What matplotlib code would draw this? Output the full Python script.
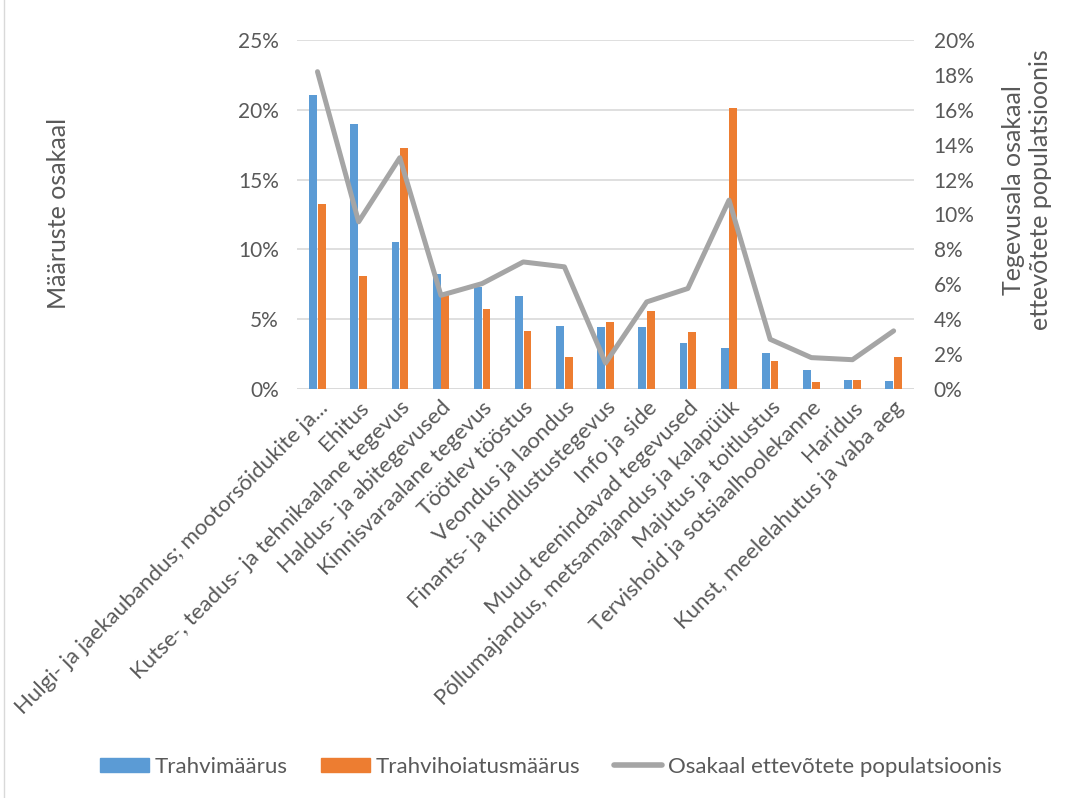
import matplotlib.pyplot as plt
from matplotlib.lines import Line2D
from matplotlib.patches import Patch
from matplotlib.ticker import PercentFormatter

plt.rcParams['font.family'] = ['Lato', 'DejaVu Sans']

categories = ['Hulgi- ja jaekaubandus; mootorsõidukite ja...', 'Ehitus',
              'Kutse-, teadus- ja tehnikaalane tegevus', 'Haldus- ja abitegevused',
              'Kinnisvaraalane tegevus', 'Töötlev tööstus', 'Veondus ja laondus',
              'Finants- ja kindlustustegevus', 'Info ja side', 'Muud teenindavad tegevused',
              'Põllumajandus, metsamajandus ja kalapüük', 'Majutus ja toitlustus',
              'Tervishoid ja sotsiaalhoolekanne', 'Haridus', 'Kunst, meelelahutus ja vaba aeg']
trahvimaarus = [21.06, 19.0, 10.52, 8.27, 7.27, 6.69, 4.49, 4.47, 4.45, 3.32, 2.96, 2.56, 1.36, 0.62, 0.57]
hoiatusmaarus = [13.22, 8.08, 17.26, 6.8, 5.74, 4.18, 2.32, 4.83, 5.57, 4.06, 20.1, 1.98, 0.5, 0.67, 2.32]
populatsioon = [18.18, 9.58, 13.25, 5.37, 6.04, 7.28, 7.0, 1.49, 4.99, 5.76, 10.82, 2.85, 1.80, 1.68, 3.33]

txt = '#595959'
fig = plt.figure(figsize=(10.68, 7.98), dpi=100)
ax = fig.add_axes([0.278, 0.5125, 0.578, 0.4375])
ax2 = ax.twinx()

x = range(len(categories))
w = 0.19
ax.bar([i - w / 2 - 0.01 for i in x], trahvimaarus, width=w, color='#5B9BD5', zorder=3)
ax.bar([i + w / 2 + 0.01 for i in x], hoiatusmaarus, width=w, color='#ED7D31', zorder=3)
ax2.plot(list(x), populatsioon, color='#A5A5A5', lw=3.6, solid_capstyle='round', zorder=4)

ax.set_xlim(-0.5, len(categories) - 0.5)
ax.set_ylim(0, 25)
ax2.set_ylim(0, 20)
ax.set_yticks(range(0, 26, 5))
ax2.set_yticks(range(0, 21, 2))
ax.yaxis.set_major_formatter(PercentFormatter(decimals=0))
ax2.yaxis.set_major_formatter(PercentFormatter(decimals=0))
ax.grid(axis='y', color='#D9D9D9', lw=1.2, zorder=0)
for a in (ax, ax2):
    for s in a.spines.values():
        s.set_visible(False)
    a.tick_params(length=0, labelsize=15, colors=txt)
ax.tick_params(axis='y', pad=13)
ax2.tick_params(axis='y', pad=14)
ax.axhline(0, color='#D9D9D9', lw=1.2, zorder=1)

ax.set_xticks(list(x))
ax.set_xticklabels(categories, rotation=45, ha='right', rotation_mode='anchor', fontsize=16, color=txt)
ax.tick_params(axis='x', pad=6)

# axis titles placed in figure coordinates
fig.text(0.055, 0.732, 'Määruste osakaal', rotation=90, fontsize=18, color=txt,
         ha='center', va='center')
fig.text(0.9616, 0.762, 'Tegevusala osakaal\nettevõtete populatsioonis', rotation=90, fontsize=18,
         color=txt, ha='center', va='center', multialignment='center', linespacing=1.25)

handles = [Patch(color='#5B9BD5'), Patch(color='#ED7D31'),
           Line2D([0], [0], color='#A5A5A5', lw=4, solid_capstyle='round')]
labels = ['Trahvimäärus', 'Trahvihoiatusmäärus', 'Osakaal ettevõtete populatsioonis']
fig.legend(handles, labels, loc='center', bbox_to_anchor=(0.516, 0.039), ncol=3, frameon=False,
           fontsize=16, labelcolor=txt, handlelength=2.2, handleheight=0.65, handletextpad=0.25,
           columnspacing=1.5)

fig.add_artist(Line2D([0.004, 0.004], [0, 1], color='#D9D9D9', lw=1))

fig.savefig('out.png', dpi=100)
